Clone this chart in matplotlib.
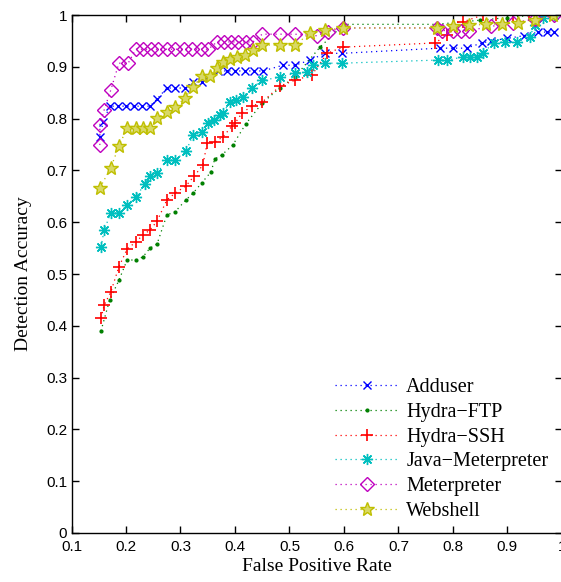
import numpy as np
import matplotlib.pyplot as plt

# values (false positive rate, detection accuracy)
adduser_x = [0.152, 0.158, 0.170, 0.185, 0.200, 0.215, 0.230, 0.244, 0.257, 0.275, 0.290, 0.308,
             0.323, 0.339, 0.369, 0.385, 0.400, 0.418, 0.435, 0.451, 0.488, 0.510, 0.538, 0.565,
             0.596, 0.776, 0.800, 0.825, 0.853, 0.870, 0.900, 0.930, 0.956, 0.972, 0.985]
adduser_y = [0.765, 0.793, 0.824, 0.824, 0.824, 0.824, 0.824, 0.824, 0.838, 0.859, 0.859, 0.859,
             0.871, 0.871, 0.892, 0.892, 0.892, 0.892, 0.892, 0.892, 0.903, 0.903, 0.913, 0.926,
             0.926, 0.936, 0.936, 0.936, 0.946, 0.950, 0.955, 0.960, 0.967, 0.967, 0.967]

ftp_x = [0.154, 0.170, 0.187, 0.202, 0.218, 0.231, 0.244, 0.257, 0.275, 0.290, 0.310, 0.323,
         0.339, 0.356, 0.363, 0.376, 0.396, 0.420, 0.450, 0.483, 0.510, 0.556, 0.600, 0.770,
         0.850, 0.900, 0.950, 0.985]
ftp_y = [0.390, 0.450, 0.488, 0.527, 0.527, 0.533, 0.550, 0.558, 0.614, 0.620, 0.643, 0.656,
         0.676, 0.697, 0.722, 0.730, 0.749, 0.790, 0.830, 0.860, 0.880, 0.938, 0.982, 0.982,
         0.990, 0.995, 1.000, 1.000]

ssh_x = [0.154, 0.160, 0.172, 0.187, 0.202, 0.218, 0.231, 0.244, 0.257, 0.275, 0.290, 0.310,
         0.325, 0.341, 0.349, 0.364, 0.378, 0.395, 0.400, 0.413, 0.431, 0.450, 0.483, 0.510,
         0.541, 0.569, 0.598, 0.767, 0.789, 0.819, 0.855, 0.880, 0.910, 0.940, 0.970]
ssh_y = [0.415, 0.440, 0.465, 0.514, 0.548, 0.562, 0.575, 0.585, 0.602, 0.643, 0.656, 0.670,
         0.689, 0.710, 0.753, 0.755, 0.765, 0.786, 0.791, 0.811, 0.824, 0.832, 0.863, 0.874,
         0.884, 0.926, 0.938, 0.946, 0.961, 0.987, 1.000, 1.000, 1.000, 1.000, 1.000]

java_x = [0.154, 0.160, 0.172, 0.187, 0.202, 0.218, 0.235, 0.244, 0.257, 0.275, 0.290, 0.310,
          0.323, 0.339, 0.350, 0.362, 0.373, 0.378, 0.391, 0.402, 0.415, 0.431, 0.450, 0.483,
          0.510, 0.532, 0.543, 0.565, 0.596, 0.772, 0.789, 0.819, 0.832, 0.844, 0.855, 0.875,
          0.895, 0.917, 0.941, 0.950, 0.965, 0.985]
java_y = [0.552, 0.585, 0.618, 0.618, 0.633, 0.649, 0.674, 0.689, 0.695, 0.720, 0.720, 0.737,
          0.768, 0.774, 0.791, 0.797, 0.807, 0.811, 0.832, 0.836, 0.842, 0.859, 0.874, 0.880,
          0.888, 0.890, 0.903, 0.907, 0.907, 0.913, 0.913, 0.919, 0.919, 0.919, 0.927, 0.946,
          0.948, 0.948, 0.958, 0.980, 0.995, 1.000]

met_x = [0.152, 0.152, 0.160, 0.172, 0.187, 0.204, 0.218, 0.232, 0.245, 0.258, 0.275, 0.290,
         0.306, 0.322, 0.338, 0.351, 0.367, 0.380, 0.393, 0.406, 0.420, 0.433, 0.450, 0.483,
         0.510, 0.550, 0.570, 0.598, 0.770, 0.780, 0.800, 0.815, 0.830, 0.870, 0.910, 0.950,
         0.985]
met_y = [0.749, 0.788, 0.817, 0.855, 0.907, 0.907, 0.934, 0.934, 0.934, 0.934, 0.934, 0.934,
         0.934, 0.934, 0.934, 0.934, 0.948, 0.948, 0.948, 0.948, 0.948, 0.948, 0.963, 0.963,
         0.963, 0.960, 0.968, 0.975, 0.975, 0.970, 0.970, 0.970, 0.970, 0.978, 0.985, 0.992,
         1.000]

web_x = [0.152, 0.172, 0.187, 0.202, 0.218, 0.231, 0.244, 0.257, 0.275, 0.290, 0.308, 0.323,
         0.339, 0.354, 0.367, 0.378, 0.391, 0.404, 0.418, 0.433, 0.450, 0.483, 0.510, 0.538,
         0.565, 0.598, 0.770, 0.800, 0.830, 0.860, 0.890, 0.920, 0.950, 0.983]
web_y = [0.666, 0.705, 0.747, 0.782, 0.782, 0.782, 0.782, 0.801, 0.813, 0.822, 0.840, 0.861,
         0.882, 0.882, 0.898, 0.909, 0.915, 0.919, 0.923, 0.932, 0.942, 0.942, 0.942, 0.965,
         0.971, 0.975, 0.975, 0.978, 0.980, 0.982, 0.983, 0.985, 0.990, 1.000]

fig = plt.figure(figsize=(5.61, 5.82), dpi=100)
ax = fig.add_axes([0.1275, 0.0842, 0.874, 0.890])

dots = (0, (1, 3))
ax.plot(adduser_x, adduser_y, ls=dots, lw=0.9, color='b', marker='x', markersize=6, mew=1,
        label='Adduser')
ax.plot(ftp_x, ftp_y, ls=dots, lw=0.9, color=(0, 0.5, 0), marker='.', markersize=4,
        label='Hydra\u2212FTP')
ax.plot(ssh_x, ssh_y, ls=dots, lw=0.9, color='r', marker='+', markersize=8.5, mew=1.2,
        label='Hydra\u2212SSH')
ax.plot(java_x, java_y, ls=dots, lw=0.9, color=(0, 0.75, 0.75), marker=(8, 2, 0), markersize=8,
        mew=1, label='Java\u2212Meterpreter')
ax.plot(met_x, met_y, ls=dots, lw=0.9, color=(0.75, 0, 0.75), marker='D', markersize=7,
        mfc='none', mew=1, label='Meterpreter')
ax.plot(web_x, web_y, ls=dots, lw=0.9, color=(0.75, 0.75, 0), marker='*', markersize=10,
        mfc=(0.85, 0.85, 0.4), mew=1, label='Webshell')

ax.set_xlim(0.1, 1.0)
ax.set_ylim(0, 1)
ax.set_xticks(np.arange(0.1, 1.01, 0.1))
ax.set_yticks(np.arange(0, 1.01, 0.1))
ax.set_xticklabels(['0.1', '0.2', '0.3', '0.4', '0.5', '0.6', '0.7', '0.8', '0.9', '1'],
                   fontfamily='Liberation Sans', fontsize=11)
ax.set_yticklabels(['0', '0.1', '0.2', '0.3', '0.4', '0.5', '0.6', '0.7', '0.8', '0.9', '1'],
                   fontfamily='Liberation Sans', fontsize=11)
ax.tick_params(direction='in', top=True, right=True, length=5, width=1)
ax.tick_params(axis='x', pad=5)
ax.tick_params(axis='y', pad=3)
for s in ax.spines.values():
    s.set_linewidth(1)

ax.set_xlabel('False Positive Rate', fontfamily='Liberation Serif', fontsize=14, labelpad=3)
ax.set_ylabel('Detection Accuracy', fontfamily='Liberation Serif', fontsize=14, labelpad=10)

leg = ax.legend(loc='lower right', numpoints=1, frameon=False, handlelength=3.2,
                prop={'family': 'Liberation Serif', 'size': 14.5}, borderaxespad=0.2,
                labelspacing=0.28, handletextpad=0.35, bbox_to_anchor=(0.997, 0.0))

fig.savefig('out.png', dpi=100)
